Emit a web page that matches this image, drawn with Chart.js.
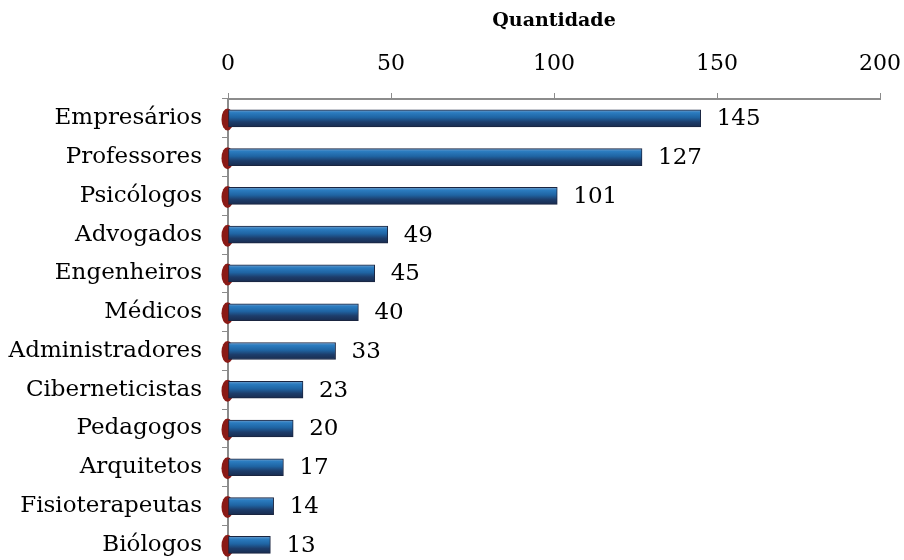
<!DOCTYPE html>
<html>
<head>
<meta charset="utf-8">
<script src="https://cdn.jsdelivr.net/npm/chart.js@4.4.0/dist/chart.umd.min.js"></script>
<style>
    html, body { margin: 0; padding: 0; background: #fff; overflow: hidden; }
    #wrap { width: 904px; height: 560px; overflow: hidden; }
</style>
</head>
<body>
<div id="wrap"><canvas id="chart" width="904" height="598"></canvas></div>
<script>
// Chart data
const categories = ['Empresários', 'Professores', 'Psicólogos', 'Advogados', 'Engenheiros', 'Médicos',
    'Administradores', 'Ciberneticistas', 'Pedagogos', 'Arquitetos', 'Fisioterapeutas', 'Biólogos'];
const quantities = [145, 127, 101, 49, 45, 40, 33, 23, 20, 17, 14, 13];
const axisTitle = 'Quantidade';
const tickMin = 0;
const tickMax = 200;
const tickStep = 50;

const FONT = 'DejaVu Serif';

// Blue cylinder look: vertical gradient across each bar
function barGradient(context) {
    const chart = context.chart;
    const yScale = chart.scales.y;
    if (!yScale || context.dataIndex === undefined) return '#1f4f86';
    const cy = yScale.getPixelForValue(context.dataIndex);
    if (!isFinite(cy)) return '#1f4f86';
    const g = chart.ctx.createLinearGradient(0, cy - 9, 0, cy + 9);
    g.addColorStop(0, '#7fa6cf');
    g.addColorStop(0.18, '#2b7cc0');
    g.addColorStop(0.45, '#1f64a3');
    g.addColorStop(0.7, '#1d3d6b');
    g.addColorStop(1, '#182a4c');
    return g;
}

// Dark red caps behind the left end of every bar
const barCaps = {
    id: 'barCaps',
    beforeDatasetsDraw(chart) {
        const ctx = chart.ctx;
        const meta = chart.getDatasetMeta(0);
        ctx.save();
        ctx.fillStyle = '#8a1a16';
        meta.data.forEach(bar => {
            ctx.beginPath();
            ctx.ellipse(bar.base - 1, bar.y + 1, 6, 11, 0, 0, Math.PI * 2);
            ctx.fill();
        });
        ctx.restore();
    },
    // value labels at the end of the bars
    afterDatasetsDraw(chart) {
        const ctx = chart.ctx;
        const meta = chart.getDatasetMeta(0);
        ctx.save();
        ctx.fillStyle = '#000';
        ctx.font = '23px "' + FONT + '"';
        ctx.textAlign = 'left';
        ctx.textBaseline = 'middle';
        meta.data.forEach((bar, i) => {
            ctx.fillText(String(quantities[i]), bar.x + 16, bar.y + 1);
        });
        ctx.restore();
    }
};

new Chart(document.getElementById('chart'), {
    type: 'bar',
    data: {
        labels: categories,
        datasets: [{
            data: quantities,
            backgroundColor: barGradient,
            borderColor: '#1a2540',
            borderWidth: 1,
            borderSkipped: false,
            barThickness: 17
        }]
    },
    options: {
        indexAxis: 'y',
        responsive: false,
        animation: false,
        layout: { padding: { top: 4, right: 0, bottom: 0, left: 0 } },
        plugins: {
            legend: { display: false },
            tooltip: { enabled: false }
        },
        scales: {
            x: {
                position: 'top',
                min: tickMin,
                max: tickMax,
                ticks: {
                    stepSize: tickStep,
                    color: '#000',
                    padding: 16,
                    font: { family: FONT, size: 22 }
                },
                grid: { drawOnChartArea: false, drawTicks: true, tickLength: 6, color: '#8c8c8c' },
                border: { color: '#8c8c8c', width: 2 },
                title: {
                    display: true,
                    text: axisTitle,
                    color: '#000',
                    font: { family: FONT, size: 19, weight: 'bold' },
                    padding: { top: 6, bottom: 4 }
                },
                afterFit(scale) {
                    scale.height = 95;
                    scale.paddingRight = 24;
                }
            },
            y: {
                ticks: {
                    color: '#000',
                    padding: 20,
                    font: { family: FONT, size: 23 }
                },
                grid: { drawOnChartArea: false, drawTicks: true, tickLength: 6, color: '#8c8c8c' },
                border: { color: '#8c8c8c', width: 2 },
                afterFit(scale) { scale.width = 228; }
            }
        }
    },
    plugins: [barCaps]
});
</script>
</body>
</html>
